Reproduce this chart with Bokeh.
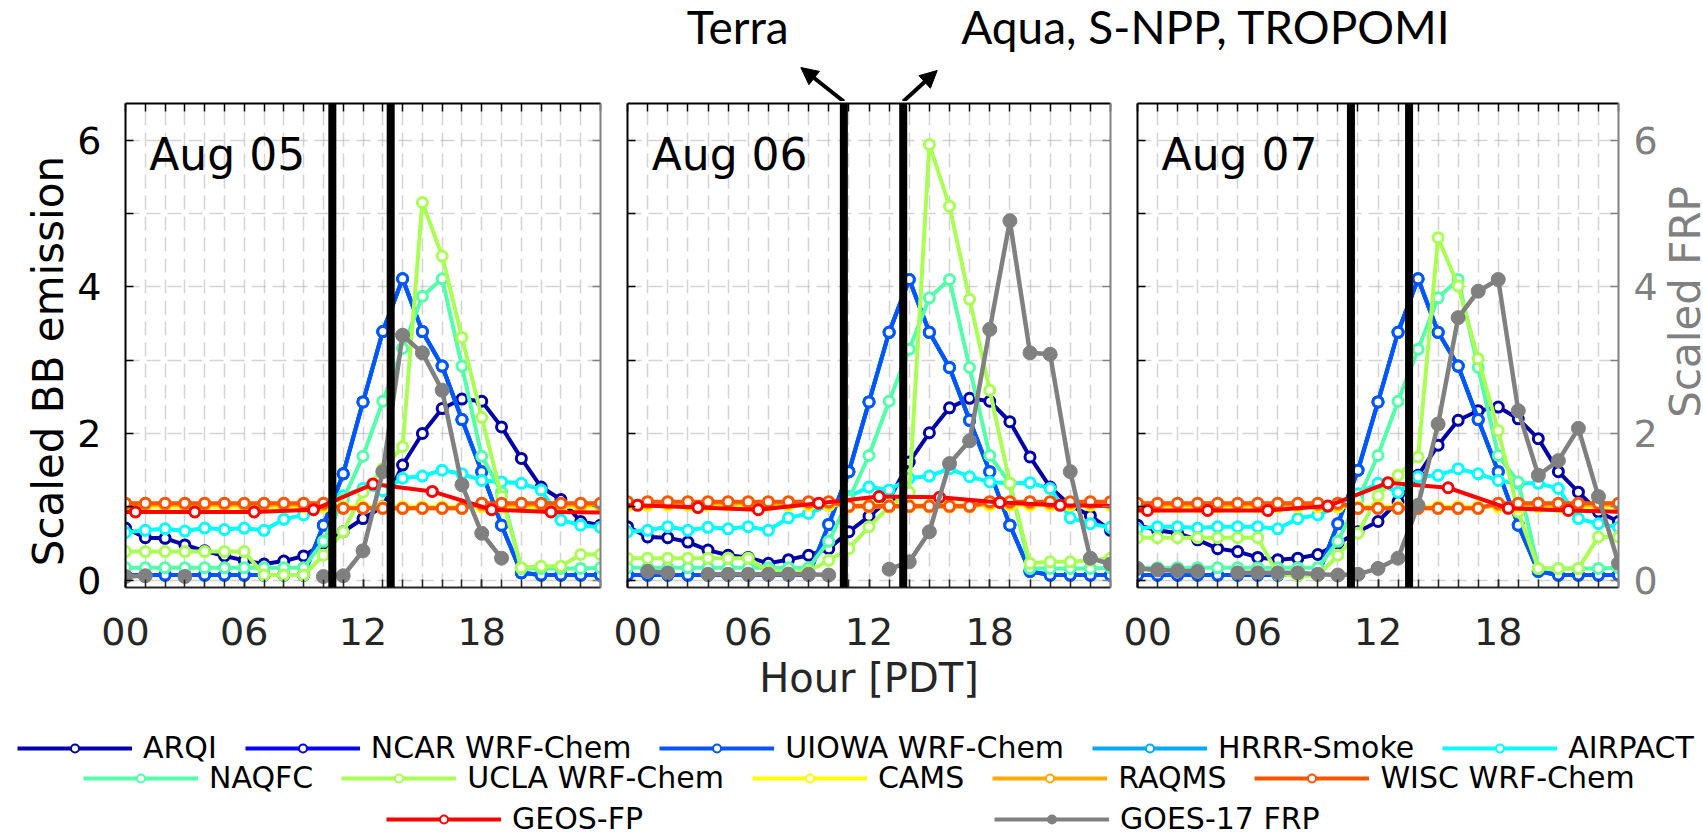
import math
from bokeh.plotting import figure
from bokeh.layouts import row, column
from bokeh.models import (Range1d, LinearAxis, FixedTicker, Span, Label, Legend, LegendItem,
                          Arrow, NormalHead, Grid)
from bokeh.embed import file_html
from bokeh.resources import INLINE

nan = float("nan")

# ---------------- data ----------------
HOURS = [0, 1, 2, 3, 4, 5, 6, 7, 8, 9, 10, 11, 12, 13, 14, 15, 16, 17, 18, 19, 20, 21, 22, 23, 24]
GEOS_HOURS = [-2.5, 0.5, 3.5, 6.5, 9.5, 12.5, 15.5, 18.5, 21.5, 24.5]
DAYS = ["Aug 05", "Aug 06", "Aug 07"]
TERRA = [10.45, 10.75, 10.65]
AQUA = [13.40, 13.70, 13.55]
X_TICKS = [0, 6, 12, 18]
X_TICK_LABELS = ["00", "06", "12", "18"]
Y_TICKS = [0, 2, 4, 6]
Y_MINOR = [1, 3, 5]
Y_ALL = [0, 1, 2, 3, 4, 5, 6]

MODELS = ["ARQI", "NCAR WRF-Chem", "UIOWA WRF-Chem", "HRRR-Smoke", "AIRPACT", "NAQFC",
          "UCLA WRF-Chem", "CAMS", "RAQMS", "WISC WRF-Chem", "GEOS-FP"]
COLORS = ["#0000AA", "#0000FF", "#0055FF", "#00AAFF", "#00FFFF", "#55FFAA",
          "#AAFF55", "#FFFF00", "#FFAA00", "#FF5500", "#FF0000"]
FRP_NAME = "GOES-17 FRP"
FRP_COLOR = "#808080"

ARQI = [
    [0.71, 0.58, 0.57, 0.48, 0.40, 0.33, 0.27, 0.22, 0.26, 0.33, 0.50, 0.66, 0.84, 1.00, 1.57, 2.00, 2.34, 2.47, 2.44, 2.09, 1.66, 1.27, 1.10, 0.80, 0.75],
    [0.73, 0.59, 0.58, 0.52, 0.41, 0.34, 0.31, 0.23, 0.28, 0.34, 0.43, 0.66, 0.87, 1.10, 1.61, 2.01, 2.35, 2.48, 2.44, 2.16, 1.68, 1.27, 1.02, 0.88, 0.68],
    [0.75, 0.68, 0.64, 0.55, 0.43, 0.39, 0.31, 0.28, 0.30, 0.35, 0.50, 0.66, 0.80, 1.07, 1.43, 1.84, 2.18, 2.31, 2.36, 2.20, 1.93, 1.48, 1.20, 0.93, 0.80],
]
NCAR = [
    [0.07, 0.07, 0.07, 0.07, 0.07, 0.07, 0.07, 0.07, 0.07, 0.07, 0.75, 1.45, 2.43, 3.39, 4.11, 3.39, 2.92, 2.19, 1.48, 0.75, 0.10, 0.07, 0.07, 0.07, 0.07],
    [0.07, 0.07, 0.07, 0.07, 0.07, 0.07, 0.07, 0.07, 0.07, 0.07, 0.76, 1.48, 2.43, 3.38, 4.10, 3.38, 2.90, 2.18, 1.48, 0.75, 0.12, 0.07, 0.07, 0.07, 0.07],
    [0.07, 0.07, 0.07, 0.07, 0.07, 0.07, 0.07, 0.07, 0.07, 0.07, 0.77, 1.50, 2.43, 3.38, 4.11, 3.38, 2.92, 2.19, 1.48, 0.75, 0.12, 0.07, 0.07, 0.07, 0.07],
]
UIOWA = [
    [0.07, 0.07, 0.07, 0.07, 0.07, 0.07, 0.07, 0.07, 0.07, 0.07, 0.75, 1.45, 2.43, 3.39, 4.11, 3.39, 2.92, 2.19, 1.48, 0.75, 0.10, 0.07, 0.07, 0.07, 0.07],
    [0.07, 0.07, 0.07, 0.07, 0.07, 0.07, 0.07, 0.07, 0.07, 0.07, 0.76, 1.48, 2.43, 3.38, 4.10, 3.38, 2.90, 2.18, 1.48, 0.75, 0.12, 0.07, 0.07, 0.07, 0.07],
    [0.07, 0.07, 0.07, 0.07, 0.07, 0.07, 0.07, 0.07, 0.07, 0.07, 0.77, 1.50, 2.43, 3.38, 4.11, 3.38, 2.92, 2.19, 1.48, 0.75, 0.12, 0.07, 0.07, 0.07, 0.07],
]
HRRR = [
    [0.07, 0.07, 0.07, 0.07, 0.07, 0.07, 0.07, 0.07, 0.07, 0.07, 0.75, 1.45, 2.43, 3.39, 4.11, 3.39, 2.92, 2.19, 1.48, 0.75, 0.10, 0.07, 0.07, 0.07, 0.07],
    [0.07, 0.07, 0.07, 0.07, 0.07, 0.07, 0.07, 0.07, 0.07, 0.07, 0.76, 1.48, 2.43, 3.38, 4.10, 3.38, 2.90, 2.18, 1.48, 0.75, 0.12, 0.07, 0.07, 0.07, 0.07],
    [0.07, 0.07, 0.07, 0.07, 0.07, 0.07, 0.07, 0.07, 0.07, 0.07, 0.77, 1.50, 2.43, 3.38, 4.11, 3.38, 2.92, 2.19, 1.48, 0.75, 0.12, 0.07, 0.07, 0.07, 0.07],
]
AIRPACT = [
    [0.65, 0.68, 0.70, 0.67, 0.71, 0.69, 0.71, 0.68, 0.83, 0.89, 1.02, 1.15, 1.25, 1.22, 1.39, 1.42, 1.50, 1.45, 1.36, 1.34, 1.32, 1.23, 0.82, 0.75, 0.72],
    [0.66, 0.68, 0.73, 0.68, 0.72, 0.70, 0.73, 0.68, 0.85, 0.91, 1.02, 1.14, 1.27, 1.23, 1.39, 1.42, 1.52, 1.41, 1.34, 1.32, 1.33, 1.25, 0.85, 0.77, 0.72],
    [0.70, 0.73, 0.73, 0.71, 0.73, 0.73, 0.73, 0.70, 0.84, 0.89, 1.00, 1.18, 1.32, 1.20, 1.41, 1.43, 1.52, 1.45, 1.36, 1.32, 1.32, 1.25, 0.84, 0.77, 0.72],
]
NAQFC = [
    [0.17, 0.17, 0.17, 0.17, 0.17, 0.17, 0.17, 0.17, 0.17, 0.17, 0.53, 1.10, 1.69, 2.44, 3.16, 3.87, 4.11, 2.92, 1.69, 1.20, 0.16, 0.16, 0.16, 0.16, 0.17],
    [0.17, 0.17, 0.17, 0.17, 0.17, 0.17, 0.17, 0.17, 0.17, 0.17, 0.53, 1.10, 1.70, 2.44, 3.15, 3.85, 4.10, 2.90, 1.70, 1.32, 0.16, 0.16, 0.16, 0.16, 0.17],
    [0.17, 0.17, 0.17, 0.17, 0.17, 0.17, 0.17, 0.17, 0.17, 0.17, 0.53, 1.10, 1.70, 2.44, 3.15, 3.85, 4.10, 2.90, 1.70, 1.34, 0.16, 0.16, 0.16, 0.16, 0.17],
]
UCLA = [
    [0.39, 0.39, 0.39, 0.39, 0.39, 0.39, 0.39, 0.07, 0.07, 0.07, 0.34, 0.66, 1.20, 1.52, 1.82, 5.15, 4.42, 3.31, 2.22, 1.14, 0.17, 0.19, 0.19, 0.35, 0.35],
    [0.30, 0.30, 0.30, 0.30, 0.30, 0.30, 0.30, 0.12, 0.10, 0.12, 0.27, 0.43, 0.73, 1.00, 1.20, 5.94, 5.10, 3.83, 2.59, 1.32, 0.23, 0.25, 0.25, 0.27, 0.30],
    [0.58, 0.58, 0.58, 0.58, 0.58, 0.58, 0.58, 0.08, 0.06, 0.06, 0.34, 0.64, 1.15, 1.43, 1.68, 4.67, 4.01, 3.02, 2.04, 0.93, 0.16, 0.16, 0.16, 0.59, 0.59],
]
CAMS = [
    [1.00, 1.00, 1.00, 1.00, 1.00, 1.00, 1.00, 1.00, 1.00, 1.00, 1.00, 1.00, 1.00, 1.00, 1.00, 1.00, 1.00, 1.00, 1.00, 1.00, 1.00, 1.00, 1.00, 1.00, 1.00],
    [1.02, 1.02, 1.02, 1.02, 1.02, 1.02, 1.02, 1.02, 1.02, 1.02, 1.02, 1.02, 1.02, 1.02, 1.02, 1.02, 1.02, 1.02, 1.02, 1.02, 1.02, 1.02, 1.02, 1.02, 1.02],
    [1.00, 1.00, 1.00, 1.00, 1.00, 1.00, 1.00, 1.00, 1.00, 1.00, 1.00, 1.00, 1.00, 1.00, 1.00, 1.00, 1.00, 1.00, 1.00, 1.00, 1.00, 1.00, 1.00, 1.00, 1.00],
]
RAQMS = [
    [1.03, 1.03, 1.03, 1.03, 1.03, 1.03, 1.03, 1.03, 1.03, 1.03, 1.03, 0.98, 0.98, 0.98, 0.98, 0.98, 0.98, 0.98, 1.03, 1.03, 1.03, 1.03, 1.03, 1.03, 1.03],
    [1.05, 1.05, 1.05, 1.05, 1.05, 1.05, 1.05, 1.05, 1.05, 1.05, 1.05, 1.00, 1.00, 1.00, 1.00, 1.00, 1.00, 1.00, 1.05, 1.05, 1.05, 1.05, 1.05, 1.05, 1.05],
    [1.03, 1.03, 1.03, 1.03, 1.03, 1.03, 1.03, 1.03, 1.03, 1.03, 1.03, 0.98, 0.98, 0.98, 0.98, 0.98, 0.98, 0.98, 1.03, 1.03, 1.03, 1.03, 1.03, 1.03, 1.03],
]
WISC = [
    [1.05, 1.05, 1.05, 1.05, 1.05, 1.05, 1.05, 1.05, 1.05, 1.05, 1.05, 0.98, 0.98, 0.98, 0.98, 0.98, 0.98, 0.98, 1.05, 1.05, 1.05, 1.05, 1.05, 1.05, 1.05],
    [1.07, 1.07, 1.07, 1.07, 1.07, 1.07, 1.07, 1.07, 1.07, 1.07, 1.07, 1.01, 1.01, 1.01, 1.01, 1.01, 1.01, 1.01, 1.07, 1.07, 1.07, 1.07, 1.07, 1.07, 1.07],
    [1.05, 1.05, 1.05, 1.05, 1.05, 1.05, 1.05, 1.05, 1.05, 1.05, 1.05, 0.98, 0.98, 0.98, 0.98, 0.98, 0.98, 0.98, 1.05, 1.05, 1.05, 1.05, 1.05, 1.05, 1.05],
]
GEOS = [
    [0.93, 0.93, 0.93, 0.93, 0.96, 1.31, 1.21, 0.96, 0.93, 0.92],
    [1.02, 1.02, 0.99, 0.96, 1.05, 1.14, 1.13, 1.06, 1.02, 1.01],
    [0.95, 0.95, 0.95, 0.95, 1.01, 1.33, 1.26, 0.98, 0.95, 0.93],
]
GOES_FRP = [
    [0.05, 0.06, nan, 0.05, nan, nan, nan, nan, nan, nan, 0.05, 0.06, 0.40, 1.48, 3.34, 3.10, 2.59, 1.30, 0.64, 0.30, nan, nan, nan, nan, nan],
    [nan, 0.12, 0.10, nan, 0.08, 0.08, 0.08, 0.08, 0.08, 0.08, 0.07, nan, nan, 0.15, 0.25, 0.66, 1.59, 1.90, 3.42, 4.90, 3.10, 3.08, 1.48, 0.30, 0.22],
    [0.16, 0.14, 0.13, 0.12, nan, 0.10, 0.10, 0.10, 0.10, 0.08, 0.07, 0.08, 0.16, 0.30, 1.02, 2.13, 3.58, 3.94, 4.10, 2.31, 1.43, 1.63, 2.07, 1.14, 0.23],
]

SERIES = {"ARQI": ARQI, "NCAR WRF-Chem": NCAR, "UIOWA WRF-Chem": UIOWA, "HRRR-Smoke": HRRR,
          "AIRPACT": AIRPACT, "NAQFC": NAQFC, "UCLA WRF-Chem": UCLA, "CAMS": CAMS,
          "RAQMS": RAQMS, "WISC WRF-Chem": WISC}
DRAW_ORDER = ["ARQI", "NCAR WRF-Chem", "HRRR-Smoke", "UIOWA WRF-Chem", "AIRPACT", "NAQFC",
              "UCLA WRF-Chem", "CAMS", "RAQMS", "WISC WRF-Chem"]
COLOR_OF = dict(zip(MODELS, COLORS))

# ---------------- layout constants ----------------
FONT = "DejaVu Sans"
TOTAL_W = 1703
HEADER_H = 101
ROW_TOP = 2
FRAME_H = 484
ROW_BOTTOM = 136
ROW_H = ROW_TOP + FRAME_H + ROW_BOTTOM
LEG_H = 836 - HEADER_H - ROW_H
LEFT_LAB_W = 74
RIGHT_LAB_W = 40
PANEL_SPECS = [  # width, min_border_left, min_border_right
    (539, 49, 13),
    (510, 14, 13),
    (540, 14, 45),
]
AX_DARK = "#262626"


def tick_style(ax, color):
    ax.axis_line_color = color
    ax.axis_line_width = 2
    ax.major_tick_line_color = color
    ax.minor_tick_line_color = color
    ax.major_tick_line_width = 1.5
    ax.minor_tick_line_width = 1.5
    ax.major_tick_in = 8
    ax.major_tick_out = 0
    ax.minor_tick_in = 8
    ax.minor_tick_out = 0


def blank_fig(w, h, x_end, y_start):
    f = figure(width=w, height=h, x_range=Range1d(0, x_end), y_range=Range1d(y_start, 0),
               x_axis_type=None, y_axis_type=None, output_backend="svg", toolbar_location=None,
               min_border=0)
    f.outline_line_color = None
    f.grid.visible = False
    return f


def make_panel(i):
    w, bl, br = PANEL_SPECS[i]
    p = figure(width=w, height=ROW_H, x_range=Range1d(0, 24), y_range=Range1d(-0.1, 6.5),
               x_axis_type=None, y_axis_type=None, output_backend="svg", toolbar_location=None,
               min_border_left=bl, min_border_right=br, min_border_top=ROW_TOP,
               min_border_bottom=ROW_BOTTOM)
    p.extra_y_ranges = {"frp": Range1d(-0.1, 6.5)}
    p.outline_line_color = None

    for dim, tk in ((0, HOURS), (1, Y_ALL)):
        p.add_layout(Grid(dimension=dim, ticker=FixedTicker(ticks=tk), grid_line_color="#b0b0b0",
                          grid_line_alpha=0.55, grid_line_width=1.5, grid_line_dash="14 7"))

    # bottom axis
    xb = LinearAxis(ticker=FixedTicker(ticks=X_TICKS, minor_ticks=HOURS),
                    major_label_overrides={t: l for t, l in zip(X_TICKS, X_TICK_LABELS)})
    tick_style(xb, AX_DARK)
    xb.major_label_text_font = FONT
    xb.major_label_text_font_size = "38px"
    xb.major_label_text_color = AX_DARK
    xb.major_label_standoff = 30
    if i == 1:
        xb.axis_label = "Hour [PDT]"
        xb.axis_label_text_font = FONT
        xb.axis_label_text_font_size = "40px"
        xb.axis_label_text_font_style = "normal"
        xb.axis_label_text_color = AX_DARK
        xb.axis_label_standoff = 7
    p.add_layout(xb, "below")

    # top axis (box, ticks only)
    xt = LinearAxis(ticker=FixedTicker(ticks=[], minor_ticks=HOURS))
    tick_style(xt, "black")
    p.add_layout(xt, "above")

    # left axis
    if i == 0:
        yl = LinearAxis(ticker=FixedTicker(ticks=Y_TICKS, minor_ticks=Y_MINOR))
        yl.major_label_text_font = FONT
        yl.major_label_text_font_size = "38px"
        yl.major_label_text_color = "black"
        yl.major_label_standoff = 24
    else:
        yl = LinearAxis(ticker=FixedTicker(ticks=[], minor_ticks=Y_ALL))
    tick_style(yl, "black")
    p.add_layout(yl, "left")

    # right axis (FRP)
    if i == 2:
        yr = LinearAxis(y_range_name="frp", ticker=FixedTicker(ticks=Y_TICKS, minor_ticks=Y_MINOR))
        yr.major_label_text_font = FONT
        yr.major_label_text_font_size = "38px"
        yr.major_label_text_color = FRP_COLOR
        yr.major_label_standoff = 15
    else:
        yr = LinearAxis(y_range_name="frp", ticker=FixedTicker(ticks=[], minor_ticks=Y_ALL))
    tick_style(yr, FRP_COLOR)
    p.add_layout(yr, "right")

    # model series
    for name in DRAW_ORDER:
        c = COLOR_OF[name]
        vals = SERIES[name][i]
        p.line(HOURS, vals, line_color=c, line_width=4, line_join="round")
        p.scatter(HOURS, vals, marker="circle", size=10, line_color=c, line_width=3,
                  fill_color="white")
    c = COLOR_OF["GEOS-FP"]
    p.line(GEOS_HOURS, GEOS[i], line_color=c, line_width=4, line_join="round")
    p.scatter(GEOS_HOURS, GEOS[i], marker="circle", size=10, line_color=c, line_width=3,
              fill_color="white")
    # GOES-17 FRP on right axis
    p.line(HOURS, GOES_FRP[i], line_color=FRP_COLOR, line_width=4.5, line_join="round",
           y_range_name="frp")
    p.scatter(HOURS, GOES_FRP[i], marker="circle", size=14, line_color=FRP_COLOR,
              fill_color=FRP_COLOR, line_width=1, y_range_name="frp")

    # overpass lines
    for h in (TERRA[i], AQUA[i]):
        p.add_layout(Span(location=h, dimension="height", line_color="black", line_width=8))

    p.add_layout(Label(x=1.2, y=5.8, text=DAYS[i], text_font=FONT, text_font_size="44px",
                       text_color="black", text_baseline="alphabetic"))
    return p


panels = [make_panel(i) for i in range(3)]

# y-axis titles in narrow side strips (y measured from the top of the panel row)
left_lab = blank_fig(LEFT_LAB_W, ROW_H, LEFT_LAB_W, ROW_H)
left_lab.add_layout(Label(x=48, y=331, text="Scaled BB emission", text_font=FONT,
                          text_font_size="42px", text_color="black", angle=math.pi / 2,
                          text_align="center", text_baseline="middle"))
right_lab = blank_fig(RIGHT_LAB_W, ROW_H, RIGHT_LAB_W, ROW_H)
right_lab.add_layout(Label(x=22, y=255, text="Scaled FRP", text_font=FONT,
                           text_font_size="42px", text_color=FRP_COLOR, angle=math.pi / 2,
                           text_align="center", text_baseline="middle"))

# ---------------- header with satellite annotations ----------------
hdr = blank_fig(TOTAL_W, HEADER_H, TOTAL_W, HEADER_H)
frame2_left = LEFT_LAB_W + PANEL_SPECS[0][0] + PANEL_SPECS[1][1]
frame2_w = PANEL_SPECS[1][0] - PANEL_SPECS[1][1] - PANEL_SPECS[1][2]
terra_x = frame2_left + TERRA[1] / 24 * frame2_w
aqua_x = frame2_left + AQUA[1] / 24 * frame2_w
hdr.add_layout(Arrow(end=NormalHead(size=17, fill_color="black", line_color="black", line_width=1),
                     x_start=terra_x, y_start=HEADER_H, x_end=terra_x - 43, y_end=HEADER_H - 34,
                     line_width=4, line_color="black"))
hdr.add_layout(Arrow(end=NormalHead(size=17, fill_color="black", line_color="black", line_width=1),
                     x_start=aqua_x, y_start=HEADER_H, x_end=aqua_x + 34, y_end=HEADER_H - 31,
                     line_width=4, line_color="black"))
hdr.add_layout(Label(x=terra_x - 157, y=26, text="Terra", text_font="Lato", text_font_size="46px",
                     text_color="black", text_baseline="alphabetic"))
hdr.add_layout(Label(x=aqua_x + 58, y=26, text="Aqua, S-NPP, TROPOMI", text_font="Lato",
                     text_font_size="46px", text_color="black", text_baseline="alphabetic"))

# ---------------- legend strip ----------------
leg = figure(width=TOTAL_W, height=LEG_H, x_range=Range1d(0, 1), y_range=Range1d(0, 1),
             x_axis_type=None, y_axis_type=None, output_backend="svg", toolbar_location=None,
             min_border=0)
leg.outline_line_color = None
leg.grid.visible = False


def legend_item(name, color, filled=False):
    r1 = leg.line(x=[nan], y=[nan], line_color=color, line_width=4)
    r2 = leg.scatter(x=[nan], y=[nan], marker="circle", size=8, line_color=color, line_width=2,
                     fill_color=color if filled else "white")
    return LegendItem(label=name, renderers=[r1, r2])


items = [legend_item(n, COLOR_OF[n]) for n in MODELS]
items.append(legend_item(FRP_NAME, FRP_COLOR, filled=True))
LEG_ROWS = [(items[0:5], 17, LEG_H - 42, 28), (items[5:10], 83, LEG_H - 72, 28),
            (items[10:12], 386, 0, 351)]
for its, lx, ly, sp in LEG_ROWS:
    lg = Legend(items=its, orientation="horizontal", location=(lx, ly), glyph_width=115,
                glyph_height=20, label_standoff=11, spacing=sp, padding=0, margin=0,
                border_line_color=None, background_fill_alpha=0, label_text_font=FONT,
                label_text_font_size="30px", label_text_color="black", label_height=20)
    leg.add_layout(lg)

layout = column(hdr, row(left_lab, *panels, right_lab), leg)
open("out.html", "w").write(file_html(layout, INLINE))
